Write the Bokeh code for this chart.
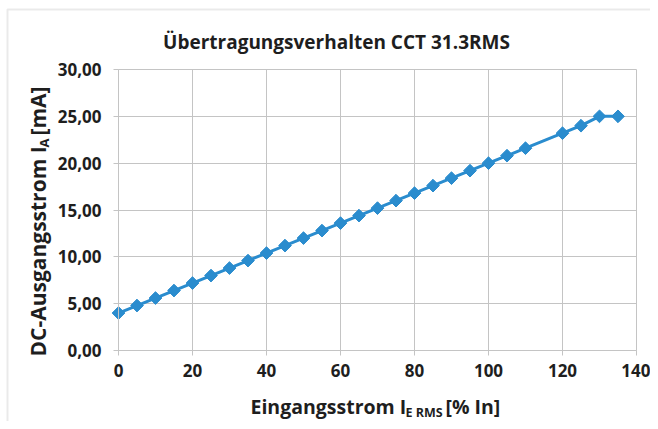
import math
from bokeh.plotting import figure
from bokeh.models import (FixedTicker, Label, Range1d, BoxAnnotation, LinearAxis,
                          Grid)
from bokeh.embed import file_html
from bokeh.resources import INLINE

# ---- data ----
x_percent = [0, 5, 10, 15, 20, 25, 30, 35, 40, 45, 50, 55, 60, 65, 70, 75, 80, 85,
             90, 95, 100, 105, 110, 120, 125, 130, 135]
i_out_ma = [4.0, 4.8, 5.6, 6.4, 7.2, 8.0, 8.8, 9.6, 10.4, 11.2, 12.0, 12.8, 13.6,
            14.4, 15.2, 16.0, 16.8, 17.6, 18.4, 19.2, 20.0, 20.8, 21.6, 23.2, 24.0,
            25.0, 25.0]
x_ticks = [0, 20, 40, 60, 80, 100, 120, 140]
y_ticks = [0, 5, 10, 15, 20, 25, 30]
y_tick_labels = ["0,00", "5,00", "10,00", "15,00", "20,00", "25,00", "30,00"]
x_lim = (0, 140)
y_lim = (0, 30)

title_text = "Übertragungsverhalten CCT 31.3RMS"

FONT = "Open Sans"
BLUE = "#2A8CCE"
GRID = "#C4C4C4"
TXT = "#1E1E1E"

W, H = 650, 421
FL, FR, FT, FB = 118, 636, 69, 350   # plot-area edges in page pixels

# the frame covers the whole canvas; the plot area is placed via the ranges
xppu = (FR - FL) / (x_lim[1] - x_lim[0])
yppu = (FB - FT) / (y_lim[1] - y_lim[0])
x_range = Range1d(x_lim[0] - FL / xppu, x_lim[1] + (W - FR) / xppu)
y_range = Range1d(y_lim[0] - (H - FB) / yppu, y_lim[1] + FT / yppu)

p = figure(width=W, height=H, output_backend="svg", toolbar_location=None,
           x_range=x_range, y_range=y_range,
           x_axis_location=None, y_axis_location=None,
           min_border=0, min_border_left=0, min_border_right=0,
           min_border_top=0, min_border_bottom=0)
p.outline_line_color = None
p.background_fill_color = "white"
p.border_fill_color = "white"
p.grid.visible = False

xaxis = LinearAxis(fixed_location=y_lim[0], bounds=x_lim,
                   ticker=FixedTicker(ticks=x_ticks))
yaxis = LinearAxis(fixed_location=x_lim[0], bounds=y_lim,
                   ticker=FixedTicker(ticks=y_ticks))
yaxis.major_label_overrides = {t: l for t, l in zip(y_ticks, y_tick_labels)}
for ax in (xaxis, yaxis):
    ax.axis_line_color = GRID
    ax.major_tick_line_color = GRID
    ax.major_tick_in = 0
    ax.major_tick_out = 5
    ax.minor_tick_line_color = None
    ax.major_label_text_font = FONT
    ax.major_label_text_font_style = "bold"
    ax.major_label_text_font_size = "17px"
    ax.major_label_text_color = TXT
yaxis.major_label_standoff = 12
xaxis.major_label_standoff = 8
p.add_layout(xaxis, "below")
p.add_layout(yaxis, "left")

# grid lines limited to the plot area
try:
    gx = Grid(dimension=0, ticker=FixedTicker(ticks=x_ticks), cross_bounds=y_lim,
              grid_line_color=GRID, grid_line_width=1)
    gy = Grid(dimension=1, ticker=FixedTicker(ticks=y_ticks), cross_bounds=x_lim,
              grid_line_color=GRID, grid_line_width=1)
    p.add_layout(gx)
    p.add_layout(gy)
except Exception:
    p.segment(x0=x_ticks, y0=[y_lim[0]] * len(x_ticks), x1=x_ticks,
              y1=[y_lim[1]] * len(x_ticks), line_color=GRID, line_width=1)
    p.segment(x0=[x_lim[0]] * len(y_ticks), y0=y_ticks,
              x1=[x_lim[1]] * len(y_ticks), y1=y_ticks, line_color=GRID,
              line_width=1)

p.line(x_percent, i_out_ma, line_color=BLUE, line_width=3)
p.scatter(x_percent, i_out_ma, marker="square", angle=math.pi / 4, size=9,
          fill_color=BLUE, line_color=BLUE)

# chart-area border (only top and left edges fall inside the picture)
p.add_layout(BoxAnnotation(left=x_range.start + 7 / xppu,
                           right=x_range.end + 20 / xppu,
                           top=y_range.end - 9 / yppu,
                           bottom=y_range.start - 20 / yppu,
                           fill_color=None, line_color="#B8B8B8", line_width=2))


def lab(x, y, text, size, angle=0.0, align="left", baseline="middle"):
    # x, y in page pixels measured from the top-left corner
    p.add_layout(Label(x=x, y=H - y, x_units="screen", y_units="screen",
                       angle=angle, text=text, text_font=FONT,
                       text_font_style="bold", text_font_size=size,
                       text_align=align, text_baseline=baseline,
                       text_color=TXT))


# title
lab(336, 41, title_text, "19px", align="center")

# x axis label with subscript
lab(250, 406, "Eingangsstrom I", "19.5px")
lab(405, 412, "E RMS", "12.5px")
lab(445, 406, "[% In]", "19.5px")

# y axis label with subscript (rotated)
R = math.pi / 2
lab(37, 356, "DC-Ausgangsstrom I", "21px", angle=R)
lab(43, 147, "A", "13px", angle=R)
lab(37, 135, "[mA]", "21px", angle=R)

open("out.html", "w").write(file_html(p, INLINE))
